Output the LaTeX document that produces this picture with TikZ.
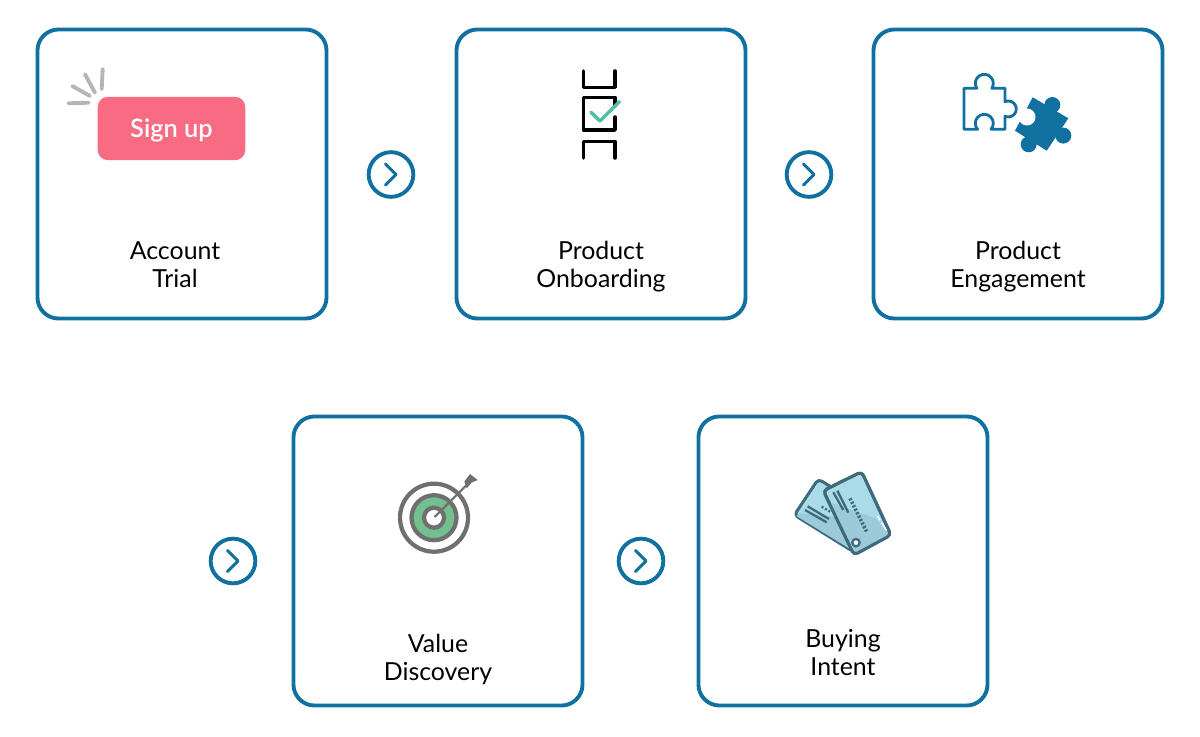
\documentclass[tikz,border=0pt]{standalone}
\usepackage{fontspec}
\setmainfont{Lato}
\newfontfamily\buttonfont{Lato Semibold}
\usetikzlibrary{calc}
\definecolor{cframe}{HTML}{10709F}
\definecolor{cpink}{HTML}{F96B82}
\definecolor{cray}{HTML}{B5B5B5}
\definecolor{ccheck}{HTML}{4DBFA5}
\definecolor{cgrey}{HTML}{6F6F6F}
\definecolor{cgreen}{HTML}{72C08E}
\definecolor{ccard}{HTML}{A9DCE8}
\definecolor{cshade}{HTML}{9CCAD8}
\definecolor{cedge}{HTML}{3E6B7B}
\tikzset{
  stagebox/.style={draw=cframe, line width=2.2pt, rounded corners=0.42cm, minimum size=5.76cm},
  caption/.style={align=center, font=\fontsize{14.1}{15.9}\selectfont},
  nextcircle/.style={draw=cframe, line width=2.2pt, circle, minimum size=0.89cm, inner sep=0pt},
  chevron/.style={draw=cframe, line width=1.7pt, line cap=round, line join=round},
  ticks/.style={cray, line width=2.2pt, line cap=round},
  rung/.style={line width=2pt, line cap=round, line join=round},
  ring/.style={draw=cgrey, line width=2.4pt},
  card/.style={draw=cedge, line width=1.7pt, rounded corners=0.08cm, line join=round},
  stripe/.style={cedge, line width=1.3pt},
}
\begin{document}
\begin{tikzpicture}[x=1pt,y=-1pt,scale=0.56693]
  \useasboundingbox (0,0) rectangle (1200,737);
  % stages and their captions
  \foreach \name/\x/\y/\lx/\ly/\txt in {
    account/182/174/175/265/Account\\Trial,
    onboarding/601/174/601/267/Product\\Onboarding,
    engagement/1018/174/1018/267/Product\\Engagement,
    discovery/438/561/438/659/Value\\Discovery,
    intent/843/561/843/653/Buying\\Intent}{
    \node[stagebox] (\name) at (\x,\y) {};
    \node[caption] (\name-text) at (\lx,\ly) {\txt};
  }
  % arrows between the stages
  \foreach \name/\x/\y in {nextA/391/174.5,nextB/809/174.5,nextC/233/561,nextD/641/561}{
    \node[nextcircle] (\name) at (\x,\y) {};
    \draw[chevron] ($(\name)+(-5.5,-10.5)$) -- ($(\name)+(5,0)$) -- ($(\name)+(-5.5,10.5)$);
  }
  % sign up button
  \node[fill=cpink, rounded corners=0.2cm, minimum width=2.94cm, minimum height=1.26cm, inner sep=0pt] (signup) at (171.5,128.5) {};
  \node[text=white, font=\fontsize{14.4}{16}\selectfont\buttonfont] (signup-text) at (171.5,130.5) {Sign up};
  \draw[ticks] (68.3,103.3) -- (88.7,102.7);
  \draw[ticks] (72.3,86) -- (90,96);
  \draw[ticks] (85,74.3) -- (95,92.7);
  \draw[ticks] (102.7,69) -- (101.7,89);
  % checklist
  \draw[rung] (583.3,71) -- (583.3,87.3) -- (615,87.3) -- (615,71);
  \draw[rung] (615,106) -- (615,97.3) -- (583.3,97.3) -- (583.3,130) -- (615,130) -- (615,117);
  \draw[rung] (583.3,158) -- (583.3,141.5) -- (615,141.5) -- (615,158);
  \draw[ccheck, rung] (591,112.3) -- (600,121) -- (619.3,101.7);
  % puzzle pieces
  \draw[cframe, line width=1.6pt, line join=round] (964,88.3) -- (976.8,88.3)
    arc (146.3:393.7:9) -- (1005,88.3) -- (1005,101.7)
    arc (-114.4:114.4:8) -- (1005,129.3) -- (991,129.3)
    arc (41.8:-221.8:9) -- (964,129.3) -- cycle;
  \fill[cframe] (1032.7,97.3) -- (1068.3,118.3) -- (1046.7,150.7) -- (1015,130.7) -- cycle;
  \fill[cframe] (1052.3,105) circle (8) (1063.3,135.6) circle (8) (1028.7,144.3) circle (8);
  \fill[white] (1027,117) circle (8.5);
  % target
  \draw[ring] (434,517.7) circle (34);
  \draw[ring, fill=cgreen] (434,517.7) circle (22.5);
  \draw[ring, fill=white] (434,517.7) circle (10);
  \draw[cgrey, line width=1.2pt, line cap=round] (434.9,516.7) -- (466.7,485);
  \fill[cgrey] (470,474) -- (477.7,480) -- (471.7,482.5) -- (466.7,488.3) -- (464.3,481.7) -- cycle;
  % cards
  \begin{scope}[shift={(785,460)},scale=0.3333]
    \draw[card, fill=ccard] (100,57) -- (28,165) -- (205,275) -- (277,167) -- cycle;
    \fill[cshade] (45,160) -- (34,168) -- (200,270) -- (215,240) -- (150,170) -- cycle;
    \draw[stripe] (60,150) -- (125,187) (68,139) -- (132,177);
    \draw[stripe, dash pattern=on 1.2pt off 1pt] (110,140) -- (135,155);
    \draw[card, fill=ccard] (230,35) -- (318,225) -- (207,285) -- (115,92) -- cycle;
    \fill[cshade] (128,125) -- (272,175) -- (314,226) -- (209,281) -- cycle;
    \draw[card] (230,35) -- (318,225) -- (207,285) -- (115,92) -- cycle;
    \draw[stripe] (145,97) -- (175,150) (157,92) -- (190,158);
    \draw[stripe, line width=2pt, dash pattern=on 1.2pt off 1pt] (195,115) -- (245,215);
    \draw[white, line width=0.8pt] (278,168) -- (285,180) (290,188) -- (305,212);
    \draw[stripe, fill=white] (213,248) circle (11);
  \end{scope}
\end{tikzpicture}
\end{document}
